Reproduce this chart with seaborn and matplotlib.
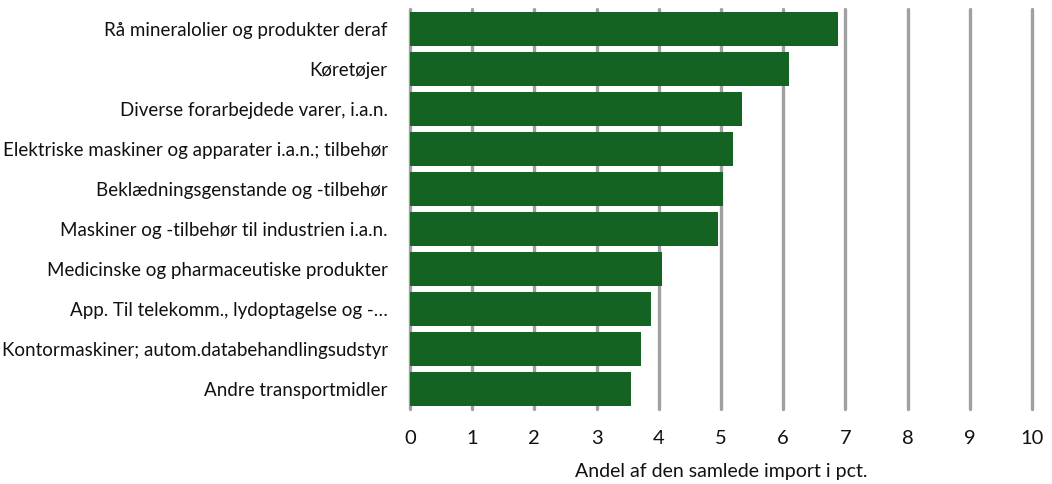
import pandas as pd
import numpy as np
import seaborn as sns
import matplotlib.pyplot as plt

# data
varer = ['Rå mineralolier og produkter deraf',
         'Køretøjer',
         'Diverse forarbejdede varer, i.a.n.',
         'Elektriske maskiner og apparater i.a.n.; tilbehør',
         'Beklædningsgenstande og -tilbehør',
         'Maskiner og -tilbehør til industrien i.a.n.',
         'Medicinske og pharmaceutiske produkter',
         'App. Til telekomm., lydoptagelse og -…',
         'Kontormaskiner; autom.databehandlingsudstyr',
         'Andre transportmidler']
andel = [6.88, 6.09, 5.33, 5.19, 5.03, 4.95, 4.05, 3.88, 3.71, 3.56]
xticks = list(range(0, 11))

df = pd.DataFrame({'vare': varer, 'andel': andel})

sns.set_theme(style='white')
plt.rcParams['font.family'] = ['Lato', 'DejaVu Sans']
plt.rcParams['text.color'] = '#111111'
plt.rcParams['xtick.color'] = '#111111'
plt.rcParams['ytick.color'] = '#111111'
plt.rcParams['axes.labelcolor'] = '#111111'

fig = plt.figure(figsize=(10.52, 4.84), dpi=100)
ax = fig.add_axes([0.3897, 0.155, 0.5913, 0.826])
ax.set_axisbelow(True)

sns.barplot(data=df, x='andel', y='vare', color='#156323', saturation=1,
            width=0.85, linewidth=0, ax=ax)

ax.set_xlim(0, 10)
ax.set_xticks(xticks)
ax.set_xticklabels([str(t) for t in xticks], fontsize=14.5)
ax.tick_params(axis='y', labelsize=13.5, length=0, pad=16)
ax.tick_params(axis='x', length=0, pad=15)
ax.xaxis.grid(True, color='#a0a0a0', linewidth=2.4)
for gl in ax.get_xgridlines():
    gl.set_clip_on(False)
ax.yaxis.grid(False)
for s in ax.spines.values():
    s.set_visible(False)
ax.set_ylabel('')
ax.set_xlabel('Andel af den samlede import i pct.', fontsize=14, labelpad=12)

fig.savefig('out.png', dpi=100)
